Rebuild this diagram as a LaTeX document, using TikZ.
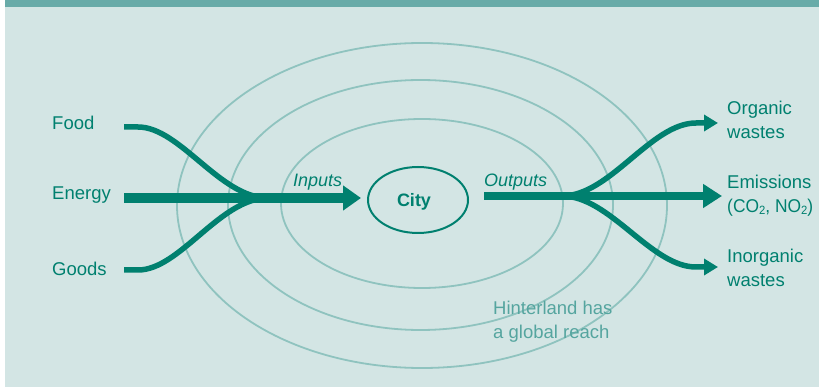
\documentclass[tikz,border=0pt]{standalone}
\usepackage{fontspec}
\setmainfont{Liberation Sans}
\newfontfamily\narrowfont[FakeStretch=0.94]{Liberation Sans}
\usetikzlibrary{arrows.meta}
\definecolor{bgc}{HTML}{D3E5E4}
\definecolor{barc}{HTML}{68ABA8}
\definecolor{tealc}{HTML}{00806F}
\definecolor{ringc}{HTML}{8FC3BF}
\definecolor{hintc}{HTML}{55A59F}
\newcommand{\subtwo}{\raisebox{-1.5pt}{\fontsize{12}{12}\selectfont 2}}
\tikzset{
  lab/.style={text=tealc, inner sep=0pt, anchor=base west, font=\fontsize{18.5}{23}\selectfont},
  ital/.style={text=tealc, inner sep=0pt, anchor=base west, font=\fontsize{18}{22}\selectfont\itshape},
  hint/.style={text=hintc, inner sep=0pt, anchor=base west, font=\fontsize{18.5}{23}\selectfont},
  ring/.style={draw=ringc, line width=1.8pt},
  fatarrow/.style={draw=tealc, line width=10pt, -{Triangle[length=18pt,width=24pt]}},
  fatarrowout/.style={draw=tealc, line width=8.5pt, -{Triangle[length=19pt,width=23pt]}},
  flow/.style={draw=tealc, line width=5.5pt},
  flowarrow/.style={draw=tealc, line width=5.5pt, -{Triangle[length=14pt,width=16pt]}},
}
\begin{document}
\begin{tikzpicture}[x=1pt,y=-1pt]
\useasboundingbox (0,0) rectangle (819,387);
\fill[white] (0,0) rectangle (819,387);
\fill[bgc] (4.5,0) rectangle (819,387);
\fill[barc] (4.5,0) rectangle (819,7);
% hinterland rings
\draw[ring] (422,205.5) ellipse [x radius=245, y radius=162.5];
\draw[ring] (420.5,205) ellipse [x radius=192.5, y radius=125];
\draw[ring] (422,203.5) ellipse [x radius=141, y radius=84.5];
% city
\node[text=tealc, inner sep=0pt, anchor=base, font=\fontsize{18}{22}\selectfont\bfseries] (city) at (414,207) {City};
\draw[draw=tealc, line width=2pt] (418,200) ellipse [x radius=50, y radius=33];
% input labels
\node[lab] (food) at (52,130) {Food};
\node[lab] (energy) at (52,200) {Energy};
\node[lab] (goods) at (52,276) {Goods};
\coordinate (foodS) at (124,127);
\coordinate (energyS) at (124,198);
\coordinate (goodsS) at (124,270);
\coordinate (merge) at (268,198);
\coordinate (inEnd) at (361,198);
\draw[flow] (foodS) -- ++(14,0) .. controls +(42,0) and +(-48,0) .. (merge);
\draw[flow] (goodsS) -- ++(14,0) .. controls +(42,0) and +(-48,0) .. (merge);
\draw[fatarrow] (energyS) -- (inEnd);
\node[ital] (inputs) at (293,187) {Inputs};
\node[ital] (outputs) at (484,187) {Outputs};
% outputs
\coordinate (outS) at (484,196);
\coordinate (split) at (562,196);
\coordinate (emEnd) at (722,196);
\coordinate (orgBend) at (696,123);
\coordinate (orgEnd) at (718,123);
\coordinate (inoBend) at (696,267);
\coordinate (inoEnd) at (718,267);
\draw[fatarrowout] (outS) -- (emEnd);
\draw[flowarrow] (split) .. controls +(48,0) and +(-45,0) .. (orgBend) -- (orgEnd);
\draw[flowarrow] (split) .. controls +(48,0) and +(-45,0) .. (inoBend) -- (inoEnd);
% output labels
\node[lab] (org1) at (727,115) {Organic};
\node[lab] (org2) at (727,138.5) {wastes};
\node[lab] (em1) at (727,189) {Emissions};
\node[lab, font=\fontsize{18.5}{23}\narrowfont] (em2) at (727,213) {(CO\subtwo, NO\subtwo)};
\node[lab] (ino1) at (727,263) {Inorganic};
\node[lab] (ino2) at (727,287) {wastes};
% hinterland text
\node[hint] (h1) at (493,315) {Hinterland has};
\node[hint] (h2) at (493,338) {a global reach};
\end{tikzpicture}
\end{document}
